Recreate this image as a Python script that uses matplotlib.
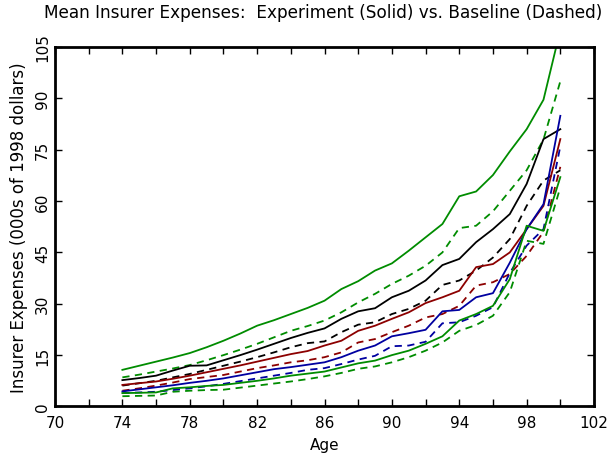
import matplotlib
matplotlib.use("Agg")
import matplotlib.pyplot as plt
from matplotlib.ticker import FixedLocator, MultipleLocator

# ages 74..100
ages = list(range(74, 101))

# Experiment (solid)
exp_green_hi = [10.7, 11.9, 13.1, 14.3, 15.6, 17.3, 19.2, 21.3, 23.6, 25.2, 27.0, 28.8, 30.9, 34.3,
                36.6, 39.7, 41.8, 45.5, 49.4, 53.3, 61.4, 62.8, 67.6, 74.5, 81.0, 89.6, 110.0]
exp_black = [7.7, 8.3, 9.0, 10.5, 11.9, 12.0, 13.5, 15.0, 16.6, 18.3, 20.0, 21.5, 22.8, 25.6,
             27.8, 28.7, 31.9, 33.8, 36.8, 41.3, 43.1, 48.0, 51.8, 56.2, 65.0, 78.1, 81.0]
exp_red = [6.3, 6.8, 7.3, 8.1, 9.0, 10.0, 11.0, 12.0, 13.1, 14.2, 15.3, 16.2, 17.8, 19.2,
           22.1, 23.6, 25.6, 27.5, 30.2, 31.9, 33.8, 40.7, 41.6, 45.0, 51.8, 58.6, 78.1]
exp_blue = [4.4, 5.0, 5.6, 6.2, 6.9, 7.5, 8.2, 9.1, 10.0, 10.9, 11.5, 12.2, 12.9, 14.4,
            16.3, 17.8, 20.5, 21.4, 22.4, 27.8, 28.2, 31.9, 33.1, 42.0, 51.8, 59.1, 84.9]
exp_green_lo = [3.9, 4.0, 4.1, 5.3, 5.6, 6.0, 6.3, 6.9, 7.5, 8.2, 9.0, 9.6, 10.2, 11.4,
                12.6, 13.4, 15.0, 16.3, 18.3, 20.5, 25.1, 27.0, 29.4, 37.2, 52.8, 51.3, 67.0]

# Baseline (dashed)
base_green_hi = [8.5, 9.3, 10.2, 11.1, 12.1, 13.5, 15.0, 16.6, 18.3, 20.2, 22.1, 23.5, 25.1, 27.5,
                 30.4, 32.9, 35.8, 38.2, 41.1, 45.0, 52.1, 52.8, 57.0, 63.0, 69.0, 78.0, 95.0]
base_black = [6.1, 6.8, 7.5, 8.5, 9.5, 10.7, 11.9, 13.1, 14.4, 15.8, 17.3, 18.5, 19.0, 21.7,
              23.9, 24.6, 27.0, 28.5, 30.9, 35.5, 36.8, 39.7, 43.5, 48.9, 58.6, 66.0, 69.0]
base_red = [4.6, 5.3, 6.1, 7.0, 8.0, 8.6, 9.2, 10.2, 11.2, 12.0, 12.9, 13.5, 14.4, 15.8,
            18.7, 19.7, 21.7, 23.6, 26.0, 27.0, 29.4, 35.3, 36.3, 38.7, 44.0, 51.0, 70.0]
base_blue = [3.9, 4.1, 4.3, 4.8, 5.3, 5.9, 6.6, 7.4, 8.2, 9.0, 9.8, 10.7, 11.2, 12.4,
             13.7, 14.8, 17.6, 17.8, 18.9, 24.3, 24.6, 26.5, 29.0, 39.0, 47.0, 51.8, 76.0]
base_green_lo = [3.0, 3.1, 3.2, 4.3, 4.6, 4.8, 4.9, 5.5, 6.1, 6.7, 7.3, 8.0, 8.8, 9.8,
                 11.0, 11.7, 12.9, 14.4, 16.3, 18.7, 22.1, 23.8, 26.5, 33.4, 48.4, 47.5, 64.0]

x_ticks = [70, 74, 78, 82, 86, 90, 94, 98, 102]
y_ticks = [0, 15, 30, 45, 60, 75, 90, 105]

GREEN = "#008c00"
BLACK = "#000000"
RED = "#8c0000"
BLUE = "#0000a0"

fig = plt.figure(figsize=(6.09, 4.56), dpi=100)
ax = fig.add_axes([0.0903, 0.1064, 0.8851, 0.7883])

solid = [(exp_green_hi, GREEN), (exp_black, BLACK), (exp_red, RED),
         (exp_blue, BLUE), (exp_green_lo, GREEN)]
dashed = [(base_green_hi, GREEN), (base_black, BLACK), (base_red, RED),
          (base_blue, BLUE), (base_green_lo, GREEN)]

for vals, c in dashed:
    ax.plot(ages, vals, color=c, lw=1.3, dashes=(4, 3))
for vals, c in solid:
    ax.plot(ages, vals, color=c, lw=1.3)

ax.set_xlim(70, 102)
ax.set_ylim(0, 105)
ax.xaxis.set_major_locator(FixedLocator(x_ticks))
ax.xaxis.set_minor_locator(MultipleLocator(2))
ax.yaxis.set_major_locator(FixedLocator(y_ticks))
ax.tick_params(which="both", direction="in", top=True, right=True,
               length=5, width=1, labelsize=11)
ax.tick_params(axis="x", pad=6)
for lbl in ax.get_yticklabels():
    lbl.set_rotation(90)
    lbl.set_va("center")
for sp in ax.spines.values():
    sp.set_linewidth(2)

ax.set_xlabel("Age", fontsize=11, labelpad=5)
ax.set_ylabel("Insurer Expenses (000s of 1998 dollars)", fontsize=12, labelpad=5)
fig.text(0.53, 0.972, "Mean Insurer Expenses:  Experiment (Solid) vs. Baseline (Dashed)",
         ha="center", va="center", fontsize=12.2)

fig.savefig("out.png", dpi=100)
